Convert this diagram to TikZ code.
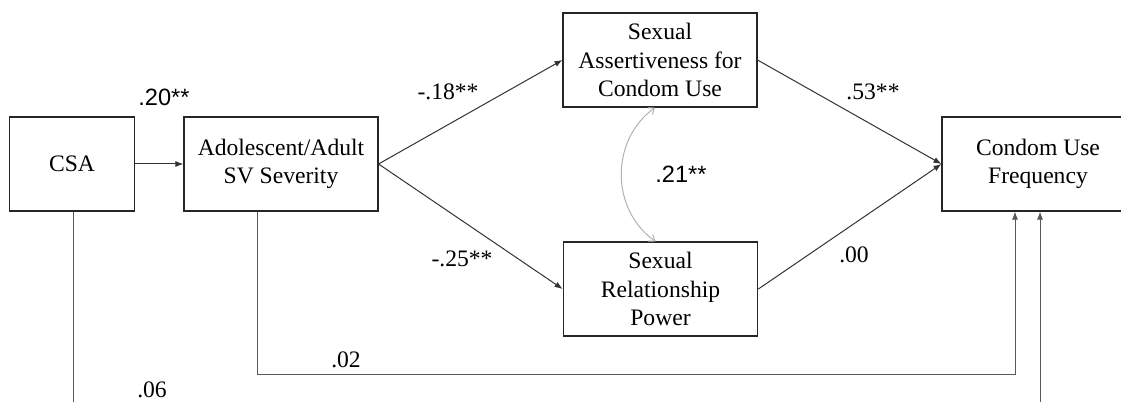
\documentclass[tikz,border=0pt]{standalone}
\usepackage{fontspec}
\setmainfont{Liberation Serif}
\newfontfamily\labsans{Liberation Sans}
\usetikzlibrary{arrows.meta}
\begin{document}
\begin{tikzpicture}[x=0.75pt,y=-0.75pt,
  box/.style={draw=black!85,line width=0.8pt,align=center,inner sep=0pt,
    minimum height=70.5pt,font=\fontsize{17.7}{21.5}\selectfont},
  arr/.style={draw=black!80,line width=0.75pt,-{Latex[length=6pt,width=4.5pt]}},
  lnk/.style={draw=black!65,line width=0.75pt,-{Latex[length=6pt,width=4.5pt]}},
  cov/.style={draw=black!30,line width=0.75pt,{Straight Barb[length=4pt,width=6pt]}-{Straight Barb[length=4pt,width=6pt]}},
  lab/.style={anchor=base,inner sep=0pt,font=\fontsize{17.7}{21.5}\selectfont}]
\useasboundingbox (0,0) rectangle (1121,402);
\clip (0,0) rectangle (1121,402);
\fill[white] (0,0) rectangle (1121,402);
\node[box,minimum width=93.75pt] (csa) at (72,164) {CSA};
\node[box,minimum width=145.5pt] (adol) at (281,164) {Adolescent/Adult\\SV Severity};
\node[box,minimum width=145.5pt] (sacu) at (660,60) {Sexual\\Assertiveness for\\Condom Use};
\node[box,minimum width=146pt] (srp) at (660.5,289) {Sexual\\Relationship\\Power};
\node[box,minimum width=144pt] (cuf) at (1038,164) {Condom Use\\Frequency};
\coordinate (c1) at (257,375);
\coordinate (c2) at (1015,375);
\coordinate (d1) at (73,430);
\coordinate (d2) at (1040,430);
\draw[arr] (csa) -- (adol);
\draw[arr] (adol.east) -- (sacu.west);
\draw[arr] (adol.east) -- (srp.west);
\draw[arr] (sacu.east) -- (cuf.west);
\draw[arr] (srp.east) -- (cuf.west);
\draw[lnk] ([xshift=-18pt]adol.south) -- (c1) -- (c2) -- ([xshift=-17.25pt]cuf.south);
\draw[lnk] ([xshift=0.75pt]csa.south) -- (d1) -- (d2) -- ([xshift=1.5pt]cuf.south);
\draw[cov] ([xshift=-3.75pt]sacu.south) .. controls +(-45,33) and +(-45,-32) .. ([xshift=-3.75pt]srp.north);
\node[lab,font=\labsans\fontsize{17.7}{21.5}\selectfont] (l1) at (164,106) {.20**};
\node[lab] (l2) at (448,100) {-.18**};
\node[lab] (l3) at (462,267) {-.25**};
\node[lab,font=\labsans\fontsize{17.7}{21.5}\selectfont] (l4) at (681,183) {.21**};
\node[lab] (l5) at (873,100) {.53**};
\node[lab] (l6) at (854,263) {.00};
\node[lab] (l7) at (346,368) {.02};
\node[lab] (l8) at (152,398) {.06};
\end{tikzpicture}
\end{document}
